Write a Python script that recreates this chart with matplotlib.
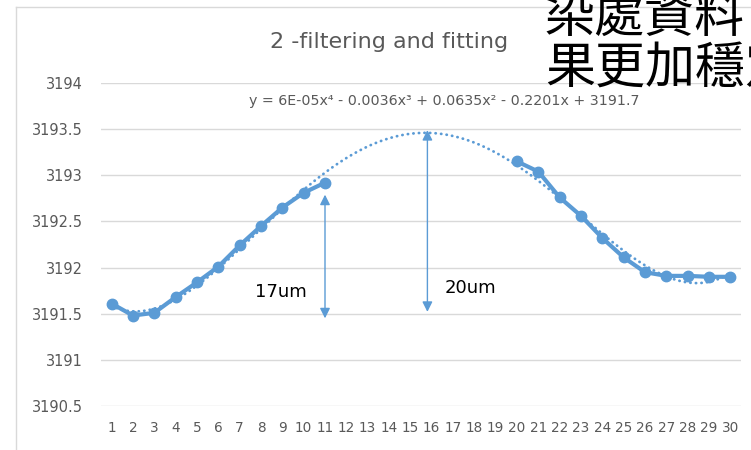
import numpy as np
import matplotlib.pyplot as plt
from matplotlib.lines import Line2D

# measured thickness per position (1..30), 12-19 have no data
pos = np.arange(1, 31)
vals = [3191.61, 3191.48, 3191.51, 3191.68, 3191.84, 3192.01, 3192.24, 3192.45,
        3192.65, 3192.81, 3192.92,
        np.nan, np.nan, np.nan, np.nan, np.nan, np.nan, np.nan, np.nan,
        3193.15, 3193.04, 3192.76, 3192.56, 3192.32, 3192.11, 3191.95,
        3191.91, 3191.91, 3191.90, 3191.90]
yticks = [3190.5, 3191, 3191.5, 3192, 3192.5, 3193, 3193.5, 3194]
# arrow spans (x, y_bottom, y_top) and their labels
arrow1 = (11, 3191.45, 3192.79)
arrow2 = (15.8, 3191.52, 3193.49)
label1 = (7.7, 3191.74, '17um')
label2 = (16.6, 3191.78, '20um')

blue = '#5B9BD5'
grey = '#595959'
font = ['DejaVu Sans']

fig = plt.figure(figsize=(7.51, 4.50), dpi=100)
ax = fig.add_axes([101 / 751, 1 - 406 / 450, 640 / 751, 323 / 450])

y = np.array(vals, dtype=float)
ok = ~np.isnan(y)
coef = np.polyfit(pos[ok], y[ok], 4)
xs = np.linspace(1, 30, 400)
ax.plot(xs, np.polyval(coef, xs), color=blue, lw=2, ls=(0, (0.1, 1.9)),
        dash_capstyle='round', zorder=2)
ax.plot(pos, y, color=blue, lw=3, marker='o', ms=7.5, zorder=3)

for (xa, yb, yt) in (arrow1, arrow2):
    ax.annotate('', xy=(xa, yt), xytext=(xa, yb),
                arrowprops=dict(arrowstyle='<|-|>', color=blue, lw=1,
                                mutation_scale=15, shrinkA=0, shrinkB=0))
for (xl, yl, t) in (label1, label2):
    ax.text(xl, yl, t, fontsize=13, family=font, color='black', va='center')

ax.set_xlim(0.5, 30.5)
ax.set_ylim(3190.5, 3194)
ax.set_xticks(pos)
ax.set_xticklabels([str(p) for p in pos], family=font, fontsize=9.8, color=grey)
ax.set_yticks(yticks)
ax.set_yticklabels([f'{v:g}' for v in yticks], family=font, fontsize=10.5, color=grey)
ax.tick_params(axis='x', length=0, pad=11)
ax.tick_params(axis='y', length=0, pad=13)
ax.grid(axis='y', color='#d9d9d9', lw=1)
ax.set_axisbelow(True)
for s in ax.spines.values():
    s.set_visible(False)

fig.text(389 / 751, 1 - 42 / 450, '2 -filtering and fitting', family=font,
         fontsize=16, color=grey, ha='center', va='center')
fig.text(444 / 751, 1 - 101 / 450,
         'y = 6E-05x⁴ - 0.0036x³ + 0.0635x² - 0.2201x + 3191.7',
         family=font, fontsize=10.3, color=grey, ha='center', va='center')

# chart frame (partly outside the picture)
fig.add_artist(Line2D([16 / 751, 16 / 751], [0, 1 - 7 / 450], color='#d9d9d9', lw=1))
fig.add_artist(Line2D([16 / 751, 1], [1 - 7 / 450, 1 - 7 / 450], color='#d9d9d9', lw=1))

cjk = ['Noto Sans CJK TC', 'DejaVu Sans']
fig.text(545 / 751, 1 - 32 / 450, '染處資料', family=cjk, fontsize=36,
         weight='light', color='black', va='baseline', ha='left')
fig.text(545 / 751, 1 - 83 / 450, '果更加穩定', family=cjk, fontsize=36,
         weight='light', color='black', va='baseline', ha='left')

fig.savefig('out.png', dpi=100)
